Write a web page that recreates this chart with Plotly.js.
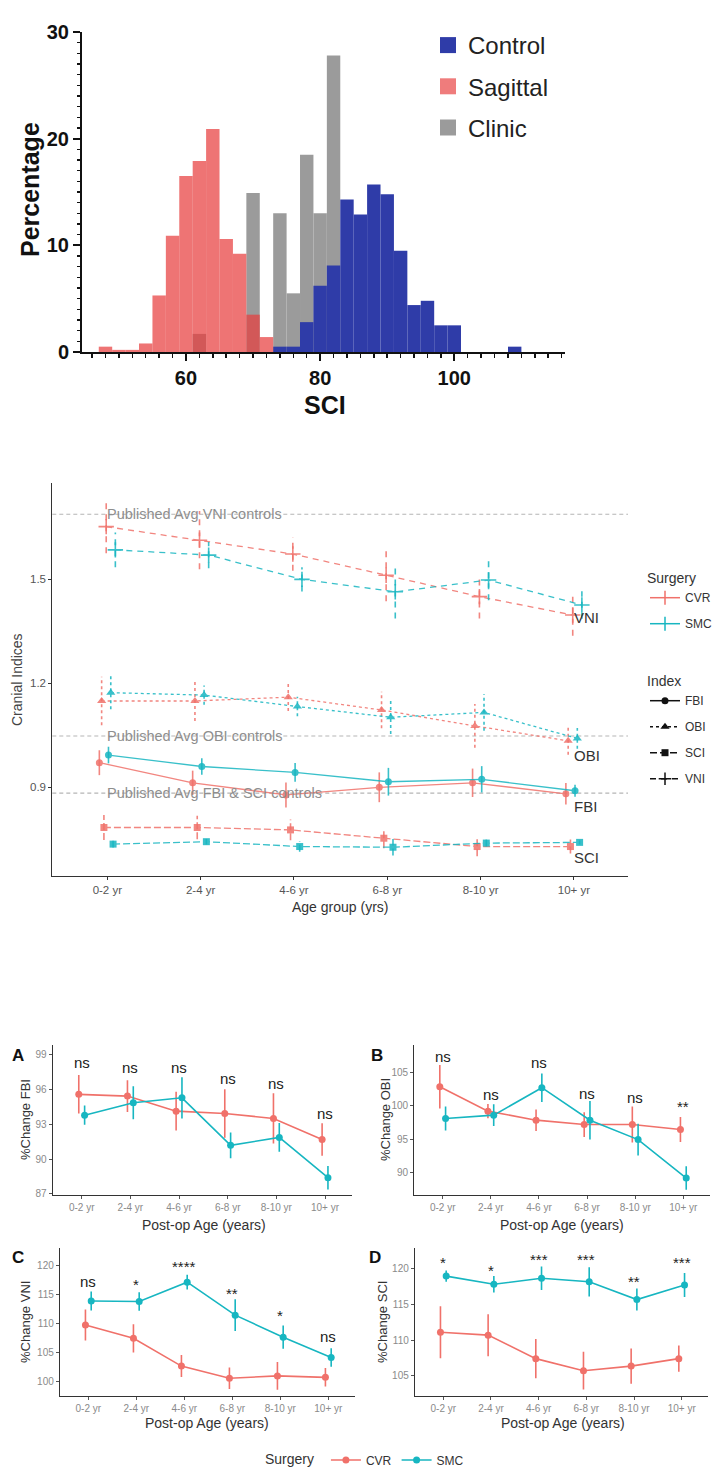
<!DOCTYPE html>
<html><head><meta charset="utf-8">
<script src="https://cdn.plot.ly/plotly-3.0.1.min.js"></script>
<style>html,body{margin:0;padding:0;background:#fff}#chart{width:722px;height:1482px}</style>
</head><body><div id="chart"></div>
<script>
// ---------- Panel 1: SCI histogram (percentage per 2-unit bin, x = bin centre)
const controlBins  = [74,76,78,80,82,84,86,88,90,92,94,96,98,100,109];
const controlPct   = [0.5,0.5,2.8,6.2,8.1,14.3,12.9,15.7,14.8,9.5,4.4,4.8,2.5,2.5,0.5];
const sagittalBins = [48,50,52,54,56,58,60,62,64,66,68,70,72];
const sagittalPct  = [0.5,0.2,0.2,0.8,5.3,10.9,16.5,17.9,20.9,10.6,9.2,3.5,1.4];
const clinicBins   = [62,70,74,76,78,80,82];
const clinicPct    = [1.7,14.9,13.0,5.5,18.5,13.0,27.8];
const binWidth = 2;

// ---------- Panel 2: Cranial indices by age group
const ageGroups = ['0-2 yr','2-4 yr','4-6 yr','6-8 yr','8-10 yr','10+ yr'];
const indexNames = ['FBI','OBI','SCI','VNI'];
const cvrFBI = [0.971,0.913,0.878,0.900,0.913,0.881];
const cvrFBIerr = [0.036,0.035,0.036,0.043,0.041,0.031];
const cvrOBI = [1.149,1.149,1.160,1.123,1.077,1.034];
const cvrOBIerr = [0.070,0.058,0.040,0.053,0.063,0.040];
const cvrSCI = [0.784,0.784,0.777,0.753,0.729,0.729];
const cvrSCIerr = [0.036,0.034,0.030,0.029,0.028,0.020];
const cvrVNI = [1.652,1.613,1.573,1.512,1.450,1.397];
const cvrVNIerr = [0.077,0.084,0.048,0.075,0.063,0.060];
const smcFBI = [0.993,0.960,0.943,0.916,0.923,0.890];
const smcFBIerr = [0.024,0.024,0.027,0.040,0.038,0.017];
const smcOBI = [1.173,1.166,1.133,1.102,1.116,1.041];
const smcOBIerr = [0.048,0.028,0.028,0.048,0.053,0.030];
const smcSCI = [0.736,0.743,0.729,0.727,0.739,0.741];
const smcSCIerr = [0.010,0.008,0.015,0.024,0.010,0.006];
const smcVNI = [1.585,1.570,1.500,1.464,1.498,1.426];
const smcVNIerr = [0.050,0.038,0.035,0.077,0.058,0.040];
const refLineVals = [1.688,1.048,0.883];
const refLineLabels = ['Published Avg VNI controls','Published Avg OBI controls','Published Avg FBI &amp; SCI controls'];
const endLabelNames = ['VNI','OBI','FBI','SCI'];
const endLabelY = [1.391,0.993,0.844,0.697];

// ---------- Panels A-D: % change by post-op age
const cvrA = [95.6,95.45,94.15,93.95,93.52,91.7];
const cvrAerr = [1.66,1.37,1.67,2.1,2.17,1.4];
const smcA = [93.8,94.88,95.3,91.2,91.88,88.4];
const smcAerr = [0.83,1.42,1.78,1.11,1.24,1.01];
const sigA = ['ns','ns','ns','ns','ns','ns'];
const sigAy = [98.28,97.85,97.85,96.84,96.41,93.82];

const cvrB = [102.85,99.2,97.85,97.2,97.2,96.45];
const cvrBerr = [3.25,1.05,1.6,1.85,2.7,1.88];
const smcB = [98.1,98.6,102.7,97.85,94.95,89.2];
const smcBerr = [1.8,1.63,2.13,2.88,2.38,1.75];
const sigB = ['ns','ns','ns','ns','ns','**'];
const sigBy = [107.24,101.61,106.25,101.71,101.12,100.27];

const cvrC = [109.8,107.5,102.7,100.6,101.0,100.75];
const cvrCerr = [2.7,2.45,1.9,1.85,2.4,1.6];
const smcC = [113.95,113.85,117.2,111.5,107.7,104.2];
const smcCerr = [1.65,1.6,1.28,2.73,2.0,1.6];
const sigC = ['ns','*','****','**','*','ns'];
const sigCy = [117.12,117.29,120.35,115.74,111.94,107.62];

const cvrD = [111.1,110.7,107.4,105.7,106.35,107.4];
const cvrDerr = [3.65,2.95,2.75,2.65,2.48,1.83];
const smcD = [119.0,117.85,118.7,118.2,115.7,117.75];
const smcDerr = [0.8,1.15,1.65,2.05,1.55,1.7];
const sigD = ['*','*','***','***','**','***'];
const sigDy = [121.27,120.23,121.73,121.73,118.69,121.27];

// ---------- styling
const W = 722, H = 1482;
const FONT = 'Liberation Sans, Arial, Helvetica, sans-serif';
const RED = '#F0716A', TEAL = '#17B6C1';
const BLUE = '#2f3ca8', SAGRED = 'rgba(232,62,62,0.72)', GRAY = '#9b9b9b';
const dx = (a,b) => [a/W, b/W];
const dy = (top,bottom) => [1-bottom/H, 1-top/H];
const catIdx = ageGroups.map((_,i)=>i);

const traces = [];
// histogram bars
traces.push({type:'bar', x:clinicBins, y:clinicPct, width:binWidth, marker:{color:GRAY, line:{width:0}}, xaxis:'x', yaxis:'y', showlegend:false, hoverinfo:'skip'});
traces.push({type:'bar', x:controlBins, y:controlPct, width:binWidth, marker:{color:BLUE, line:{width:0}}, xaxis:'x', yaxis:'y', showlegend:false, hoverinfo:'skip'});
traces.push({type:'bar', x:sagittalBins, y:sagittalPct, width:binWidth, marker:{color:SAGRED, line:{width:0}}, xaxis:'x', yaxis:'y', showlegend:false, hoverinfo:'skip'});
[['Control',BLUE],['Sagittal','#ef7c7c'],['Clinic',GRAY]].forEach(([n,c],i)=>{
  traces.push({type:'scatter', mode:'markers', x:[null], y:[null], name:n, legendgroup:'h'+i, legend:'legend',
    marker:{symbol:'square', size:16, color:c}, xaxis:'x', yaxis:'y'});
});

// middle chart
const midData = {
  CVR:{FBI:[cvrFBI,cvrFBIerr],OBI:[cvrOBI,cvrOBIerr],SCI:[cvrSCI,cvrSCIerr],VNI:[cvrVNI,cvrVNIerr]},
  SMC:{FBI:[smcFBI,smcFBIerr],OBI:[smcOBI,smcOBIerr],SCI:[smcSCI,smcSCIerr],VNI:[smcVNI,smcVNIerr]}
};
const dashes = {FBI:'solid', OBI:'3px,3px', SCI:'7px,3px', VNI:'6px,5px'};
const symbols = {FBI:'circle', OBI:'triangle-up', SCI:'square', VNI:'cross-thin-open'};
const msize = {FBI:7, OBI:8, SCI:7, VNI:11};
const dodgeStep = 0.0245;
['CVR','SMC'].forEach((s,si)=>{
  const col = si===0 ? RED : TEAL;
  indexNames.forEach((ix,ii)=>{
    const off = (si*4+ii-3.5)*dodgeStep;
    const [vals,errs] = midData[s][ix];
    const xs = catIdx.map(i=>i+off);
    const ex=[], ey=[];
    vals.forEach((v,j)=>{ex.push(xs[j],xs[j],null); ey.push(v-errs[j],v+errs[j],null);});
    traces.push({type:'scatter', mode:'lines', x:ex, y:ey, xaxis:'x2', yaxis:'y2', showlegend:false, hoverinfo:'skip',
      line:{color:col, width:1.6, dash:dashes[ix]}, opacity:0.85});
    traces.push({type:'scatter', mode:'lines+markers', x:xs, y:vals, xaxis:'x2', yaxis:'y2', showlegend:false,
      line:{color:col, width:1.3, dash:dashes[ix]}, opacity:0.85,
      marker:{symbol:symbols[ix], size:msize[ix], color:col, line:{color:col, width: ix==='VNI'?1.6:0}}});
  });
});
[['CVR',RED],['SMC',TEAL]].forEach(([n,c])=>{
  traces.push({type:'scatter', mode:'lines+markers', x:[null], y:[null], name:n, legend:'legend2', legendgroup:'s'+n,
    line:{color:c, width:1.5}, marker:{symbol:'line-ns-open', size:10, color:c, line:{color:c, width:1.5}}, xaxis:'x2', yaxis:'y2'});
});
indexNames.forEach(ix=>{
  traces.push({type:'scatter', mode:'lines+markers', x:[null], y:[null], name:ix, legend:'legend3', legendgroup:'i'+ix,
    line:{color:'#111', width:1.5, dash:dashes[ix]}, marker:{symbol:symbols[ix], size:Math.min(msize[ix],9), color:'#111', line:{color:'#111', width: ix==='VNI'?1.5:0}}, xaxis:'x2', yaxis:'y2'});
});

// bottom panels
const panels = [
  {k:3, cvr:cvrA, ce:cvrAerr, smc:smcA, se:smcAerr, sig:sigA, sy:sigAy},
  {k:4, cvr:cvrB, ce:cvrBerr, smc:smcB, se:smcBerr, sig:sigB, sy:sigBy},
  {k:5, cvr:cvrC, ce:cvrCerr, smc:smcC, se:smcCerr, sig:sigC, sy:sigCy},
  {k:6, cvr:cvrD, ce:cvrDerr, smc:smcD, se:smcDerr, sig:sigD, sy:sigDy}
];
const annotations = [];
panels.forEach((p,pi)=>{
  [['CVR',RED,p.cvr,p.ce,-0.06],['SMC',TEAL,p.smc,p.se,0.06]].forEach(([n,c,v,e,off])=>{
    traces.push({type:'scatter', mode:'lines+markers', name:n, x:catIdx.map(i=>i+off), y:v,
      xaxis:'x'+p.k, yaxis:'y'+p.k, legend:'legend4', showlegend: pi===0, legendgroup:'b'+n,
      line:{color:c, width:1.6}, marker:{color:c, size:7},
      error_y:{type:'data', array:e, visible:true, color:c, thickness:1.6, width:0}});
  });
  p.sig.forEach((t,j)=>{
    annotations.push({xref:'x'+p.k, yref:'y'+p.k, x:j, y:p.sy[j], text:t, showarrow:false,
      xanchor:'center', yanchor:'middle', yshift: t[0]==='*' ? -3 : 1,
      font:{family:FONT, size:15, color:'#222'}});
  });
});

// middle-chart text
refLineVals.forEach((v,i)=>{
  annotations.push({xref:'x2', yref:'y2', x:0, y:v, text:refLineLabels[i], showarrow:false, xanchor:'left', yanchor:'middle',
    xshift:-2, font:{family:FONT, size:14.5, color:'#8e8e8e'}});
});
endLabelNames.forEach((n,i)=>{
  annotations.push({xref:'x2', yref:'y2', x:5, y:endLabelY[i], text:n, showarrow:false, xanchor:'left', yanchor:'middle',
    xshift:-2, font:{family:FONT, size:15, color:'#333'}});
});

function ann(text, xp, yp, o={}){
  annotations.push(Object.assign({xref:'paper', yref:'paper', x:xp/W, y:1-yp/H, text, showarrow:false,
    xanchor:'center', yanchor:'middle', font:{family:FONT, size:14, color:'#333'}}, o));
}
ann('Percentage', 30, 190, {textangle:-90, font:{family:FONT, size:25, color:'#111', weight:'bold'}});
ann('SCI', 325, 405, {font:{family:FONT, size:25, color:'#111', weight:'bold'}});
ann('Cranial Indices', 17, 680, {textangle:-90, font:{family:FONT, size:14, color:'#444'}});
ann('Age group (yrs)', 340, 907, {font:{family:FONT, size:14, color:'#333'}});
const axT = [['%Change FBI',25,1120,'Post-op Age (years)',204,1225],
             ['%Change OBI',385,1120,'Post-op Age (years)',562,1225],
             ['%Change VNI',25,1322,'Post-op Age (years)',207,1423],
             ['%Change SCI',382,1322,'Post-op Age (years)',563,1423]];
axT.forEach(a=>{
  ann(a[0], a[1], a[2], {textangle:-90, font:{family:FONT, size:13, color:'#333'}});
  ann(a[3], a[4], a[5], {font:{family:FONT, size:14, color:'#333'}});
});
[['A',18,1055],['B',377,1055],['C',18,1257],['D',375,1257]].forEach(l=>{
  ann(l[0], l[1], l[2], {font:{family:FONT, size:17, color:'#111', weight:'bold'}});
});

// shapes: reference lines on the middle chart (y from data)
const shapes = refLineVals.map(v=>({type:'line', xref:'x2 domain', yref:'y2', x0:0, x1:1, y0:v, y1:v,
  line:{color:'#b5b5b5', width:1.1, dash:'4px,3px'}, layer:'below'}));

// axes
const histAx = {showline:true, linecolor:'#111', linewidth:2, ticks:'outside', tickcolor:'#111', tickwidth:2,
  showgrid:false, zeroline:false, fixedrange:true, tickfont:{family:FONT, size:20, color:'#111', weight:'bold'}};
const midAx = {showline:true, linecolor:'#333', linewidth:1, ticks:'outside', ticklen:3, tickcolor:'#333', tickwidth:1,
  showgrid:false, zeroline:false, fixedrange:true, tickfont:{family:FONT, size:11.5, color:'#555'}};
const botAx = {showline:true, linecolor:'#333', linewidth:1.2, ticks:'outside', ticklen:3, tickcolor:'#555', tickwidth:1,
  showgrid:false, zeroline:false, fixedrange:true, tickfont:{family:FONT, size:10, color:'#8a8a8a'}};
const catAx = Object.assign({}, botAx, {tickvals:catIdx, ticktext:ageGroups});

const layout = {
  width:W, height:H, margin:{l:0,r:0,t:0,b:0}, paper_bgcolor:'#fff', plot_bgcolor:'rgba(0,0,0,0)',
  barmode:'overlay', showlegend:true, font:{family:FONT}, hovermode:false,
  xaxis:Object.assign({}, histAx, {domain:dx(82,565), range:[44.5,116.5], anchor:'y', tick0:0, dtick:20, ticklen:7,
    minor:{dtick:2, ticks:'outside', ticklen:4, tickwidth:1.5, tickcolor:'#111'}}),
  yaxis:Object.assign({}, histAx, {domain:dy(32,352), range:[0,30], anchor:'x', tick0:0, dtick:10, ticklen:7,
    minor:{dtick:1, ticks:'outside', ticklen:3.5, tickwidth:1.5, tickcolor:'#111'}}),
  xaxis2:Object.assign({}, midAx, {domain:dx(52.3,628), range:[-0.59,5.58], anchor:'y2', tickvals:catIdx, ticktext:ageGroups}),
  yaxis2:Object.assign({}, midAx, {domain:dy(483,876), range:[0.644,1.778], anchor:'x2', tickvals:[0.9,1.2,1.5], tickformat:'.1f'}),
  xaxis3:Object.assign({}, catAx, {domain:dx(52.7,351.8), range:[-0.596,5.55], anchor:'y3'}),
  yaxis3:Object.assign({}, botAx, {domain:dy(1045,1195), range:[86.91,99.86], anchor:'x3', tick0:87, dtick:3}),
  xaxis4:Object.assign({}, catAx, {domain:dx(414.3,709.8), range:[-0.59,5.55], anchor:'y4'}),
  yaxis4:Object.assign({}, botAx, {domain:dy(1045,1195), range:[86.67,109.08], anchor:'x4', tick0:90, dtick:5}),
  xaxis5:Object.assign({}, catAx, {domain:dx(60,354.7), range:[-0.59,5.55], anchor:'y5'}),
  yaxis5:Object.assign({}, botAx, {domain:dy(1248,1395.7), range:[97.58,123.11], anchor:'x5', tick0:100, dtick:5}),
  xaxis6:Object.assign({}, catAx, {domain:dx(415,707.9), range:[-0.594,5.55], anchor:'y6'}),
  yaxis6:Object.assign({}, botAx, {domain:dy(1248,1395.7), range:[102.19,122.95], anchor:'x6', tick0:105, dtick:5}),
  legend:{x:428/W, y:1-23/H, xanchor:'left', yanchor:'top', font:{family:FONT, size:24, color:'#222'},
    itemwidth:30, traceorder:'grouped', tracegroupgap:7, bgcolor:'rgba(0,0,0,0)'},
  legend2:{x:645/W, y:1-565/H, xanchor:'left', yanchor:'top', font:{family:FONT, size:12, color:'#333'},
    title:{text:'Surgery', font:{family:FONT, size:14, color:'#333'}}, itemwidth:30, traceorder:'grouped', tracegroupgap:7, bgcolor:'rgba(0,0,0,0)'},
  legend3:{x:645/W, y:1-668/H, xanchor:'left', yanchor:'top', font:{family:FONT, size:12, color:'#333'},
    title:{text:'Index', font:{family:FONT, size:14, color:'#333'}}, itemwidth:30, traceorder:'grouped', tracegroupgap:7, bgcolor:'rgba(0,0,0,0)'},
  legend4:{x:263/W, y:1-1460/H, xanchor:'left', yanchor:'middle', orientation:'h', font:{family:FONT, size:12, color:'#333'},
    title:{text:'Surgery ', side:'left', font:{family:FONT, size:14, color:'#333'}}, itemwidth:30, bgcolor:'rgba(0,0,0,0)'},
  annotations, shapes
};
Plotly.newPlot('chart', traces, layout, {staticPlot:true, displayModeBar:false});
</script></body></html>
